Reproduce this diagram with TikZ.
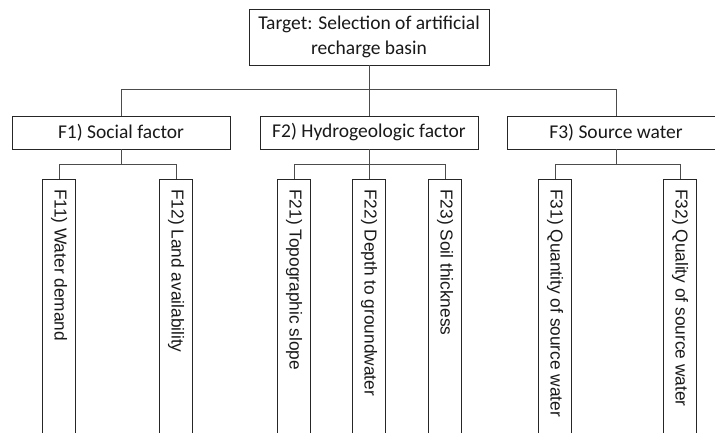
\documentclass[tikz,border=0pt]{standalone}
\usepackage{fontspec}
\setmainfont{Carlito}
\newfontfamily\vfont{Liberation Sans}
\begin{document}
\begin{tikzpicture}[x=1pt,y=-1pt,
  box/.style={draw=black!85, line width=0.9pt, fill=white, inner sep=0pt, text=black!90,
    font=\fontsize{19.5}{25}\selectfont, align=center},
  leaf/.style={draw=black!85, line width=0.9pt, fill=white, minimum width=33pt, minimum height=275pt, anchor=north, inner sep=0pt},
  vlabel/.style={rotate=-90, anchor=west, inner sep=0pt, text=black!90, font=\vfont\fontsize{17.3}{20}\selectfont},
  conn/.style={draw=black!70, line width=0.9pt}]
\useasboundingbox (0,0) rectangle (715,433);
\clip (0,0) rectangle (715,433);
\node[box, minimum width=240pt, minimum height=56pt] (top) at (369,37) {Target: Selection of artificial\\recharge basin};
\node[box, minimum width=218pt, minimum height=33pt] (F1) at (121,132.5) {F1) Social factor};
\node[box, minimum width=218pt, minimum height=33pt] (F2) at (369,132.5) {F2) Hydrogeologic factor};
\node[box, minimum width=218pt, minimum height=33pt] (F3) at (616,132.5) {F3) Source water};
\coordinate (bus) at (0,89);
\draw[conn] (top.south) -- (top.south |- bus);
\draw[conn] (F1.north) -- (F1.north |- bus) -- (F3.north |- bus) -- (F3.north);
\draw[conn] (F2.north) -- (F2.north |- bus);
% leaves
\node[leaf] (F11) at (59,179) {};
\node[leaf] (F12) at (176,179) {};
\node[leaf] (F21) at (294,179) {};
\node[leaf] (F22) at (369,179) {};
\node[leaf] (F23) at (445,179) {};
\node[leaf] (F31) at (555,179) {};
\node[leaf] (F32) at (680,179) {};
\node[vlabel] (t11) at (59,189) {F11) Water demand};
\node[vlabel] (t12) at (176,189) {F12) Land availability};
\node[vlabel] (t21) at (294,189) {F21) Topographic slope};
\node[vlabel] (t22) at (369,189) {F22) Depth to groundwater};
\node[vlabel] (t23) at (445,189) {F23) Soil thickness};
\node[vlabel] (t31) at (555,189) {F31) Quantity of source water};
\node[vlabel] (t32) at (680,189) {F32) Quality of source water};
\coordinate (bus2) at (0,164);
\draw[conn] (F1.south) -- (F1.south |- bus2);
\draw[conn] (F11.north) -- (F11.north |- bus2) -- (F12.north |- bus2) -- (F12.north);
\draw[conn] (F2.south) -- (F2.south |- bus2);
\draw[conn] (F21.north) -- (F21.north |- bus2) -- (F23.north |- bus2) -- (F23.north);
\draw[conn] (F22.north) -- (F22.north |- bus2);
\draw[conn] (F3.south) -- (F3.south |- bus2);
\draw[conn] (F31.north) -- (F31.north |- bus2) -- (F32.north |- bus2) -- (F32.north);
\end{tikzpicture}
\end{document}
